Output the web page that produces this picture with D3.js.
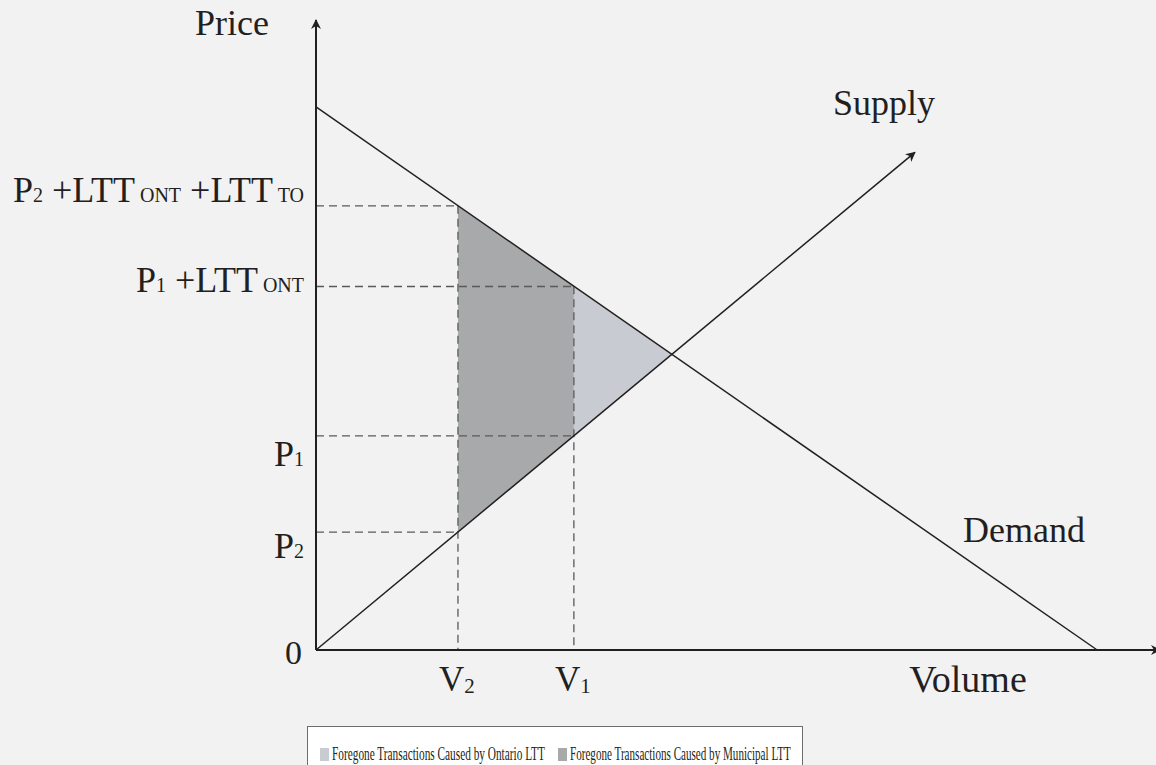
<!DOCTYPE html>
<html>
<head>
<meta charset="utf-8">
<title>Land transfer tax - supply and demand</title>
<script src="https://cdn.jsdelivr.net/npm/d3@7/dist/d3.min.js"></script>
<style>
    html, body { margin: 0; padding: 0; background: #f2f2f2; }
    svg { display: block; }
    text { font-family: "Liberation Serif", "DejaVu Serif", serif; fill: #231f20; }
</style>
</head>
<body>
<script>
// data (arbitrary units)
var demandLine = [[0, 86.2], [93, 0]];
var supplyLine = [[0, 0], [71.3, 79]];
var volumes = [
    { name: "V", sub: "2", v: 16.9 },
    { name: "V", sub: "1", v: 30.7 }
];
var prices = [
    { parts: [["P", 1], ["2", 0], [" +LTT", 1], [" ONT", 0], [" +LTT", 1], [" TO", 0]], p: 70.5, v: 16.9 },
    { parts: [["P", 1], ["1", 0], [" +LTT", 1], [" ONT", 0]], p: 57.7, v: 30.7 },
    { parts: [["P", 1], ["1", 0]], p: 34.0, v: 30.7 },
    { parts: [["P", 1], ["2", 0]], p: 18.7, v: 16.9 }
];
var legendItems = [
    { label: "Foregone Transactions Caused by Ontario LTT", color: "#c8cbd2" },
    { label: "Foregone Transactions Caused by Municipal LTT", color: "#a8a9ab" }
];

var width = 1156, height = 765;
var svg = d3.select("body").append("svg")
    .attr("width", width)
    .attr("height", height);

var x = d3.scaleLinear().domain([0, 100]).range([316, 1156]);
var y = d3.scaleLinear().domain([0, 100]).range([650, 20]);

var defs = svg.append("defs");
defs.append("marker")
    .attr("id", "arrow")
    .attr("viewBox", "0 0 10 10")
    .attr("refX", 9).attr("refY", 5)
    .attr("markerWidth", 10).attr("markerHeight", 10)
    .attr("markerUnits", "userSpaceOnUse")
    .attr("orient", "auto")
    .append("path")
    .attr("d", "M0,0 L10,5 L0,10 L3,5 Z")
    .attr("fill", "#231f20");

function demandAt(v) {
    var a = demandLine[0], b = demandLine[1];
    return a[1] + (b[1] - a[1]) * (v - a[0]) / (b[0] - a[0]);
}
function supplyAt(v) {
    var a = supplyLine[0], b = supplyLine[1];
    return a[1] + (b[1] - a[1]) * (v - a[0]) / (b[0] - a[0]);
}
// equilibrium
var sd = (demandLine[1][1] - demandLine[0][1]) / (demandLine[1][0] - demandLine[0][0]);
var ss = (supplyLine[1][1] - supplyLine[0][1]) / (supplyLine[1][0] - supplyLine[0][0]);
var vEq = demandLine[0][1] / (ss - sd);
var pEq = supplyAt(vEq);

var v2 = volumes[0].v, v1 = volumes[1].v;

var line = d3.line().x(function (d) { return x(d[0]); }).y(function (d) { return y(d[1]); });

// shaded areas
svg.append("path")
    .attr("d", line([[v2, demandAt(v2)], [v1, demandAt(v1)], [v1, supplyAt(v1)], [v2, supplyAt(v2)]]) + "Z")
    .attr("fill", legendItems[1].color);
svg.append("path")
    .attr("d", line([[v1, demandAt(v1)], [vEq, pEq], [v1, supplyAt(v1)]]) + "Z")
    .attr("fill", legendItems[0].color);

// dashed guides
prices.forEach(function (d) {
    svg.append("line")
        .attr("x1", x(0)).attr("x2", x(d.v))
        .attr("y1", y(d.p)).attr("y2", y(d.p))
        .attr("stroke", "#5a5a5a").attr("stroke-width", 1.3)
        .attr("stroke-dasharray", "8,5");
});
volumes.forEach(function (d) {
    svg.append("line")
        .attr("x1", x(d.v)).attr("x2", x(d.v))
        .attr("y1", y(demandAt(d.v))).attr("y2", y(0))
        .attr("stroke", "#5a5a5a").attr("stroke-width", 1.3)
        .attr("stroke-dasharray", "8,5");
});

// axes
svg.append("line")
    .attr("x1", x(0)).attr("y1", y(0))
    .attr("x2", x(0)).attr("y2", 20)
    .attr("stroke", "#231f20").attr("stroke-width", 2)
    .attr("marker-end", "url(#arrow)");
svg.append("line")
    .attr("x1", x(0)).attr("y1", y(0))
    .attr("x2", 1160).attr("y2", y(0))
    .attr("stroke", "#231f20").attr("stroke-width", 2)
    .attr("marker-end", "url(#arrow)");

// demand and supply
svg.append("path")
    .attr("d", line(demandLine))
    .attr("fill", "none").attr("stroke", "#231f20").attr("stroke-width", 1.5);
svg.append("path")
    .attr("d", line(supplyLine))
    .attr("fill", "none").attr("stroke", "#231f20").attr("stroke-width", 1.5)
    .attr("marker-end", "url(#arrow)");

// text labels
svg.append("text").attr("x", 232).attr("y", 35).attr("text-anchor", "middle")
    .style("font-size", "36px").text("Price");
svg.append("text").attr("x", 884).attr("y", 115).attr("text-anchor", "middle")
    .style("font-size", "36px").text("Supply");
svg.append("text").attr("x", 1024).attr("y", 542).attr("text-anchor", "middle")
    .style("font-size", "36px").text("Demand");
svg.append("text").attr("x", 968).attr("y", 692).attr("text-anchor", "middle")
    .style("font-size", "38px").text("Volume");
svg.append("text").attr("x", 302).attr("y", 664).attr("text-anchor", "end")
    .style("font-size", "34px").text("0");

// label baseline offsets from their dashed line
var labelDy = [-4, 6, 30, 26];
prices.forEach(function (d, i) {
    var t = svg.append("text")
        .attr("x", 304).attr("y", y(d.p) + labelDy[i])
        .attr("text-anchor", "end");
    d.parts.forEach(function (p) {
        t.append("tspan")
            .style("font-size", p[1] ? "36px" : "20px")
            .text(p[0]);
    });
});

volumes.forEach(function (d) {
    var t = svg.append("text")
        .attr("x", x(d.v) - 19).attr("y", 691);
    t.append("tspan").style("font-size", "35px").text(d.name);
    t.append("tspan").style("font-size", "21px").attr("dy", 2).text(d.sub);
});

// legend
var legend = svg.append("g");
legend.append("rect")
    .attr("x", 307.5).attr("y", 726.5)
    .attr("width", 495).attr("height", 45)
    .attr("fill", "#ffffff").attr("stroke", "#6d6d6d").attr("stroke-width", 1);
var lx = [320, 558];
var lw = [213, 221];
legendItems.forEach(function (d, i) {
    legend.append("rect")
        .attr("x", lx[i]).attr("y", 748)
        .attr("width", 9).attr("height", 13)
        .attr("fill", d.color);
    var g = legend.append("g")
        .attr("transform", "translate(" + (lx[i] + 12) + ",760)");
    var t = g.append("text")
        .style("font-size", "19px")
        .text(d.label);
    var w = t.node().getComputedTextLength();
    g.attr("transform", "translate(" + (lx[i] + 12) + ",760) scale(" + (lw[i] / w) + ",1)");
});
</script>
</body>
</html>
